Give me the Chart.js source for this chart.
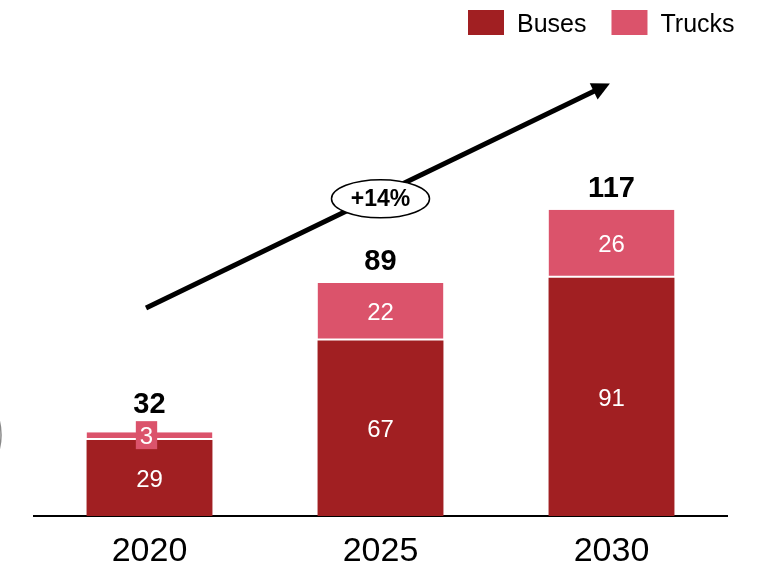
<!DOCTYPE html>
<html lang="en">
<head>
<meta charset="UTF-8">
<title>Buses and Trucks</title>
<script src="https://cdn.jsdelivr.net/npm/chart.js"></script>
<style>
  body { margin: 0; background: #fff; }
  .wrap { width: 766px; height: 563px; position: relative; }
</style>
</head>
<body>
<div class="wrap"><canvas id="chart"></canvas></div>
<script>
const years = ['2020', '2025', '2030'];
const buses = [29, 67, 91];
const trucks = [3, 22, 26];
const growthLabel = '+14%';
// growth arrow ends and badge centre, as [category index, value]
const arrowFrom = [-0.015, 79.5];
const arrowTo = [1.993, 165.2];
const growthAt = [1.0, 121.2];

const FONT = '"Liberation Sans", Arial, sans-serif';
const BUS_RED = '#a11f22';
const TRUCK_PINK = '#db536b';

// segment values inside the bars, totals on top
const barLabels = {
  id: 'barLabels',
  afterDatasetsDraw(chart) {
    const ctx = chart.ctx;
    const boxTops = [];
    ctx.save();
    ctx.textAlign = 'center';
    ctx.textBaseline = 'middle';
    ctx.font = '24px ' + FONT;
    chart.data.datasets.forEach((ds, di) => {
      chart.getDatasetMeta(di).data.forEach((bar, i) => {
        const h = bar.base - bar.y;
        const cy = (bar.y + bar.base) / 2;
        const text = String(ds.data[i]);
        if (h < 24) {
          // too thin for the number: put it on a tag of the same colour
          const w = ctx.measureText(text).width + 8;
          ctx.fillStyle = ds.backgroundColor;
          ctx.fillRect(bar.x - 3 - w / 2, cy - 15, w, 28);
          boxTops[i] = cy - 15;
          ctx.fillStyle = '#fff';
          ctx.fillText(text, bar.x - 3, cy + 1);
          return;
        }
        ctx.fillStyle = '#fff';
        ctx.fillText(text, bar.x, cy + 2);
      });
    });

    ctx.font = 'bold 29px ' + FONT;
    ctx.fillStyle = '#000';
    ctx.textBaseline = 'alphabetic';
    const tops = chart.getDatasetMeta(chart.data.datasets.length - 1).data;
    years.forEach((y, i) => {
      const total = buses[i] + trucks[i];
      let base = tops[i].y - 13;
      if (boxTops[i] !== undefined) base = Math.min(base, boxTops[i] - 8);
      ctx.fillText(String(total), tops[i].x, base);
    });
    ctx.restore();
  }
};

// growth arrow with the rate in an oval
const growthArrow = {
  id: 'growthArrow',
  afterDatasetsDraw(chart) {
    const ctx = chart.ctx;
    const xs = chart.scales.x, ys = chart.scales.y;
    const x0 = xs.getPixelForValue(arrowFrom[0]), y0 = ys.getPixelForValue(arrowFrom[1]);
    const x1 = xs.getPixelForValue(arrowTo[0]), y1 = ys.getPixelForValue(arrowTo[1]);
    const len = Math.hypot(x1 - x0, y1 - y0);
    const ux = (x1 - x0) / len, uy = (y1 - y0) / len;
    const nx = -uy, ny = ux;
    const headLen = 18, headHalf = 9;

    ctx.save();
    ctx.strokeStyle = '#000';
    ctx.fillStyle = '#000';
    ctx.lineWidth = 5;
    ctx.beginPath();
    ctx.moveTo(x0, y0);
    ctx.lineTo(x1 - ux * (headLen - 2), y1 - uy * (headLen - 2));
    ctx.stroke();
    ctx.beginPath();
    ctx.moveTo(x1, y1);
    ctx.lineTo(x1 - ux * headLen + nx * headHalf, y1 - uy * headLen + ny * headHalf);
    ctx.lineTo(x1 - ux * headLen - nx * headHalf, y1 - uy * headLen - ny * headHalf);
    ctx.closePath();
    ctx.fill();

    const cx = xs.getPixelForValue(growthAt[0]), cy = ys.getPixelForValue(growthAt[1]);
    ctx.beginPath();
    ctx.ellipse(cx, cy, 49, 19, 0, 0, Math.PI * 2);
    ctx.fillStyle = '#fff';
    ctx.fill();
    ctx.lineWidth = 1.5;
    ctx.stroke();
    ctx.fillStyle = '#000';
    ctx.font = 'bold 23px ' + FONT;
    ctx.textAlign = 'center';
    ctx.textBaseline = 'middle';
    ctx.fillText(growthLabel, cx, cy + 1);

    // bracket arc at the left edge
    ctx.beginPath();
    ctx.ellipse(-44, 435, 45, 50, 0, -Math.PI / 2, Math.PI / 2);
    ctx.strokeStyle = '#888';
    ctx.lineWidth = 1.5;
    ctx.stroke();
    ctx.restore();
  }
};

// legend in the top right corner
const legendBoxes = {
  id: 'legendBoxes',
  afterDraw(chart) {
    const ctx = chart.ctx;
    ctx.save();
    ctx.font = '25px ' + FONT;
    ctx.textBaseline = 'middle';
    ctx.textAlign = 'left';
    let x = 468;
    chart.data.datasets.forEach(ds => {
      ctx.fillStyle = ds.backgroundColor;
      ctx.fillRect(x, 10, 36, 25);
      ctx.fillStyle = '#000';
      ctx.fillText(ds.label, x + 49, 25);
      x += 49 + ctx.measureText(ds.label).width + 25;
    });
    ctx.restore();
  }
};

new Chart(document.getElementById('chart'), {
  type: 'bar',
  data: {
    labels: years,
    datasets: [
      {
        label: 'Buses',
        data: buses,
        backgroundColor: BUS_RED,
        borderWidth: 0
      },
      {
        label: 'Trucks',
        data: trucks,
        backgroundColor: TRUCK_PINK,
        borderColor: '#fff',
        borderWidth: { top: 0, left: 0, right: 0, bottom: 2 },
        borderSkipped: false
      }
    ]
  },
  options: {
    responsive: true,
    maintainAspectRatio: false,
    animation: false,
    categoryPercentage: 1,
    barPercentage: 0.545,
    layout: { padding: { left: 34, right: 39, top: 71, bottom: 0 } },
    plugins: {
      legend: { display: false },
      tooltip: { enabled: false }
    },
    scales: {
      x: {
        stacked: true,
        grid: { display: false, drawTicks: false },
        border: { display: true, color: '#000', width: 2 },
        ticks: { color: '#000', font: { size: 34, family: FONT }, padding: 15 },
        afterFit(scale) { scale.height = 47; }
      },
      y: {
        stacked: true,
        display: false,
        min: 0,
        max: 170
      }
    }
  },
  plugins: [barLabels, growthArrow, legendBoxes]
});
</script>
</body>
</html>
